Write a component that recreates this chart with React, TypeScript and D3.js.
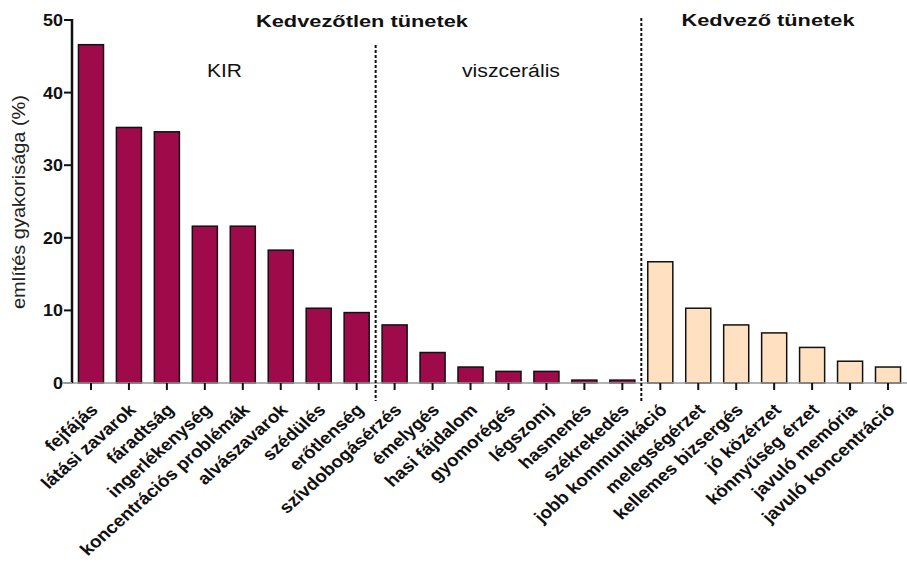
import React, { useEffect, useRef } from 'react';
import * as d3 from 'd3';

const categories = [
  'fejfájás', 'látási zavarok', 'fáradtság', 'ingerlékenység', 'koncentrációs problémák',
  'alvászavarok', 'szédülés', 'erőtlenség', 'szívdobogásérzés', 'émelygés', 'hasi fájdalom',
  'gyomorégés', 'légszomj', 'hasmenés', 'székrekedés', 'jobb kommunikáció', 'melegségérzet',
  'kellemes bizsergés', 'jó közérzet', 'könnyűség érzet', 'javuló memória', 'javuló koncentráció',
];
const values = [
  46.6, 35.2, 34.6, 21.6, 21.6, 18.3, 10.3, 9.7, 8.0, 4.2, 2.2,
  1.6, 1.6, 0.4, 0.4, 16.7, 10.3, 8.0, 6.9, 4.9, 3.0, 2.2,
];
// 0 = kedvezőtlen, 1 = kedvező
const groups = [0, 0, 0, 0, 0, 0, 0, 0, 0, 0, 0, 0, 0, 0, 0, 1, 1, 1, 1, 1, 1, 1];
const yTicks = [0, 10, 20, 30, 40, 50];

const W = 907;
const H = 568;
const FONT = '"Liberation Sans", Arial, Helvetica, sans-serif';
const SX = 1.12; // the reference is stretched horizontally

export default function App() {
  const svgRef = useRef<SVGSVGElement>(null);

  useEffect(() => {
    if (!svgRef.current) return;
    const svg = d3.select(svgRef.current);
    svg.selectAll('*').remove();

    const x = d3.scaleBand<string>()
      .domain(categories)
      .range([72, 907])
      .paddingInner(0.34)
      .paddingOuter(0.17);
    const y = d3.scaleLinear().domain([0, 50]).range([383, 20]);
    const colors = ['#9e0a4a', '#ffe0c0'];

    const g = svg.append('g');

    // bars
    g.selectAll('rect.bar')
      .data(categories)
      .enter()
      .append('rect')
      .attr('class', 'bar')
      .attr('x', d => x(d)!)
      .attr('width', x.bandwidth())
      .attr('y', (d, i) => y(values[i]))
      .attr('height', (d, i) => y(0) - y(values[i]))
      .attr('fill', (d, i) => colors[groups[i]])
      .attr('stroke', '#111')
      .attr('stroke-width', 1.5);

    // x axis line (grey)
    g.append('line')
      .attr('x1', 60).attr('x2', 907)
      .attr('y1', y(0)).attr('y2', y(0))
      .attr('stroke', '#9a9a9a')
      .attr('stroke-width', 1.5);

    // x ticks
    g.selectAll('line.xtick')
      .data(categories)
      .enter()
      .append('line')
      .attr('x1', d => x(d)! + x.bandwidth() / 2)
      .attr('x2', d => x(d)! + x.bandwidth() / 2)
      .attr('y1', y(0))
      .attr('y2', y(0) + 7)
      .attr('stroke', '#111')
      .attr('stroke-width', 2);

    // x tick labels
    g.selectAll('text.xlab')
      .data(categories)
      .enter()
      .append('text')
      .attr('transform', d => `translate(${x(d)! + x.bandwidth() / 2 + 8},${y(0) + 28}) scale(${SX},1) rotate(-45)`)
      .attr('text-anchor', 'end')
      .attr('font-family', FONT)
      .attr('font-weight', 'bold')
      .attr('font-size', 17)
      .attr('fill', '#111')
      .text(d => d);

    // y axis
    g.append('line')
      .attr('x1', 72).attr('x2', 72)
      .attr('y1', y(50) - 1).attr('y2', y(0))
      .attr('stroke', '#111')
      .attr('stroke-width', 2.5);
    g.selectAll('line.ytick')
      .data(yTicks)
      .enter()
      .append('line')
      .attr('x1', 64).attr('x2', 72)
      .attr('y1', d => y(d)).attr('y2', d => y(d))
      .attr('stroke', d => (d === 0 ? '#9a9a9a' : '#111'))
      .attr('stroke-width', 2);
    g.selectAll('text.ylab')
      .data(yTicks)
      .enter()
      .append('text')
      .attr('transform', d => `translate(63,${y(d) + 6}) scale(${SX},1)`)
      .attr('text-anchor', 'end')
      .attr('font-family', FONT)
      .attr('font-weight', 'bold')
      .attr('font-size', 16)
      .attr('fill', '#111')
      .text(d => d);

    // y title
    g.append('text')
      .attr('transform', `translate(25,202) rotate(-90)`)
      .attr('text-anchor', 'middle')
      .attr('font-family', FONT)
      .attr('font-size', 18)
      .attr('fill', '#222')
      .attr('textLength', 214)
      .attr('lengthAdjust', 'spacingAndGlyphs')
      .text('említés gyakorisága (%)');

    // dotted separators
    const sep1 = (x(categories[7])! + x.bandwidth() + x(categories[8])!) / 2;
    const sep2 = (x(categories[14])! + x.bandwidth() + x(categories[15])!) / 2;
    [[sep1, 45], [sep2, 18]].forEach(([sx, top]) => {
      g.append('line')
        .attr('x1', sx).attr('x2', sx)
        .attr('y1', top).attr('y2', 401)
        .attr('stroke', '#111')
        .attr('stroke-width', 2)
        .attr('stroke-dasharray', '3,2');
    });

    // headings
    const heading = (txt: string, cx: number, by: number, len: number, bold: boolean) => {
      g.append('text')
        .attr('x', cx)
        .attr('y', by)
        .attr('text-anchor', 'middle')
        .attr('font-family', FONT)
        .attr('font-weight', bold ? 'bold' : 'normal')
        .attr('font-size', bold ? 17 : 18)
        .attr('fill', '#111')
        .attr('textLength', len)
        .attr('lengthAdjust', 'spacingAndGlyphs')
        .text(txt);
    };
    heading('Kedvezőtlen tünetek', 362, 27, 212, true);
    heading('Kedvező tünetek', 768, 26, 173, true);
    heading('KIR', 224.5, 77, 35, false);
    heading('viszcerális', 511, 77, 98, false);
  }, []);

  return (
    <svg
      ref={svgRef}
      width={W}
      height={H}
      style={{ position: 'absolute', left: 0, top: 0, background: '#fff', display: 'block' }}
    />
  );
}
